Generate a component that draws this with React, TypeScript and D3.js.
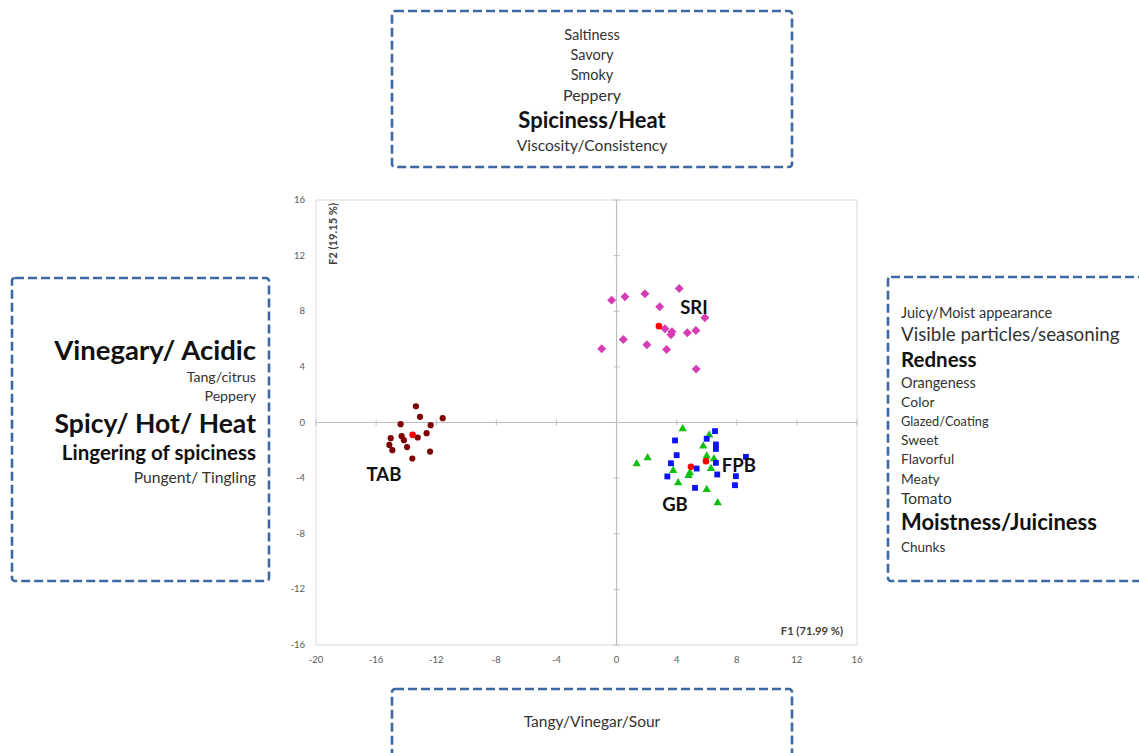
import React from "react";
import * as d3 from "d3";

// ---- Data ----
const sriX = [-0.33, 0.56, 1.89, 4.17, 2.87, 5.88, 3.22, 3.69, 3.62, 4.71, 5.28, 0.45, 2.02, 3.33, -0.99, 5.30];
const sriY = [8.8, 9.04, 9.26, 9.64, 8.32, 7.53, 6.74, 6.52, 6.31, 6.45, 6.62, 5.97, 5.59, 5.25, 5.3, 3.84];

const tabX = [-13.35, -13.08, -11.57, -14.37, -12.37, -12.64, -15.03, -14.3, -13.23, -14.15, -15.12, -14.92, -13.94, -12.41, -13.59];
const tabY = [1.17, 0.41, 0.31, -0.12, -0.19, -0.77, -1.13, -0.98, -1.08, -1.27, -1.61, -1.99, -1.77, -2.09, -2.59];

const gbX = [4.4, 6.17, 5.77, 2.07, 1.34, 6.0, 6.48, 3.77, 6.28, 4.88, 4.79, 4.1, 6.0, 6.73];
const gbY = [-0.45, -0.91, -1.7, -2.54, -2.97, -2.42, -2.61, -3.45, -3.31, -3.62, -3.81, -4.34, -4.82, -5.78];

const fpbX = [6.55, 6.0, 3.89, 6.61, 6.61, 4.0, 8.61, 3.62, 6.61, 5.33, 6.7, 3.38, 7.94, 7.88, 5.22];
const fpbY = [-0.62, -1.17, -1.29, -1.58, -1.9, -2.35, -2.47, -2.93, -2.9, -3.31, -3.74, -3.88, -3.86, -4.51, -4.7];

const centroidNames = ["SRI", "TAB", "GB", "FPB"];
const centroidX = [2.82, -13.57, 4.95, 5.95];
const centroidY = [6.93, -0.89, -3.19, -2.78];

const groupLabels = ["SRI", "TAB", "FPB", "GB"];
const groupLabelX = [5.15, -15.48, 8.14, 3.89];
const groupLabelY = [7.77, -4.24, -3.53, -6.33];

const xTicks = [-20, -16, -12, -8, -4, 0, 4, 8, 12, 16];
const yTicks = [-16, -12, -8, -4, 0, 4, 8, 12, 16];

const xAxisTitle = "F1 (71.99 %)";
const yAxisTitle = "F2 (19.15 %)";

const topTerms = ["Saltiness", "Savory", "Smoky", "Peppery", "Spiciness/Heat", "Viscosity/Consistency"];
const leftTerms = ["Vinegary/ Acidic", "Tang/citrus", "Peppery", "Spicy/ Hot/ Heat", "Lingering of spiciness", "Pungent/ Tingling"];
const rightTerms = ["Juicy/Moist appearance", "Visible particles/seasoning", "Redness", "Orangeness", "Color", "Glazed/Coating", "Sweet", "Flavorful", "Meaty", "Tomato", "Moistness/Juiciness", "Chunks"];
const bottomTerms = ["Tangy/Vinegar/Sour"];

// ---- Styles (layout) ----
const FONT = "Lato, 'Open Sans', sans-serif";
const topStyle = [
  { y: 40, size: 14.5, w: 400 },
  { y: 60, size: 14.5, w: 400 },
  { y: 80, size: 14.5, w: 400 },
  { y: 101, size: 16, w: 400 },
  { y: 128, size: 22, w: 700 },
  { y: 151, size: 15.6, w: 400 },
];
const leftStyle = [
  { y: 360, size: 27.5, w: 700 },
  { y: 382, size: 14.2, w: 400 },
  { y: 401, size: 14.2, w: 400 },
  { y: 433, size: 26.5, w: 700 },
  { y: 460, size: 20.5, w: 700 },
  { y: 483, size: 15.7, w: 400 },
];
const rightStyle = [
  { y: 318, size: 14.5, w: 400 },
  { y: 341, size: 18.8, w: 400 },
  { y: 367, size: 20.5, w: 700 },
  { y: 388, size: 14.4, w: 400 },
  { y: 407, size: 14, w: 400 },
  { y: 426, size: 12.8, w: 400 },
  { y: 445, size: 13.8, w: 400 },
  { y: 464, size: 13.8, w: 400 },
  { y: 484, size: 13.8, w: 400 },
  { y: 504, size: 15.5, w: 400 },
  { y: 530, size: 22, w: 700 },
  { y: 552, size: 13.5, w: 400 },
];

const BOX = "#3e68a3";

export default function App() {
  const x = d3.scaleLinear().domain([-20, 16]).range([316, 857]);
  const y = d3.scaleLinear().domain([-16, 16]).range([645, 200]);

  const diamond = d3.symbol().type(d3.symbolSquare).size(40)() as string;
  const circle = d3.symbol().type(d3.symbolCircle).size(30)() as string;
  const square = d3.symbol().type(d3.symbolSquare).size(34)() as string;
  const triangle = d3.symbol().type(d3.symbolTriangle).size(30)() as string;
  const centroid = d3.symbol().type(d3.symbolCircle).size(34)() as string;

  const series = [
    { xs: sriX, ys: sriY, path: diamond, color: "#d63cb4", rot: 45 },
    { xs: tabX, ys: tabY, path: circle, color: "#7f0000", rot: 0 },
    { xs: gbX, ys: gbY, path: triangle, color: "#10c010", rot: 0 },
    { xs: fpbX, ys: fpbY, path: square, color: "#0a14f0", rot: 0 },
  ];

  const dashBox = (x0: number, y0: number, w: number, h: number, key: string) => (
    <rect key={key} x={x0} y={y0} width={w} height={h} rx={3} fill="none" stroke={BOX} strokeWidth={2.6} strokeDasharray="9,4" />
  );

  return (
    <svg width={1139} height={753} style={{ position: "absolute", left: 0, top: 0, background: "#fff" }} fontFamily={FONT}>
      {/* plot frame */}
      <rect x={x(-20)} y={y(16)} width={x(16) - x(-20)} height={y(-16) - y(16)} fill="#fff" stroke="#d9d9d9" strokeWidth={1} />
      {/* zero axes */}
      <line x1={x(0)} x2={x(0)} y1={y(16)} y2={y(-16)} stroke="#bfbfbf" strokeWidth={1.2} />
      <line x1={x(-20)} x2={x(16)} y1={y(0)} y2={y(0)} stroke="#bfbfbf" strokeWidth={1.2} />
      {yTicks.map((t) => (
        <line key={"yt" + t} x1={x(0) - 3} x2={x(0) + 3} y1={y(t)} y2={y(t)} stroke="#bfbfbf" strokeWidth={1} />
      ))}
      {xTicks.map((t) => (
        <line key={"xt" + t} x1={x(t)} x2={x(t)} y1={y(0) - 3} y2={y(0) + 3} stroke="#bfbfbf" strokeWidth={1} />
      ))}
      {/* tick labels */}
      {xTicks.map((t) => (
        <text key={"xl" + t} x={x(t)} y={663} fontSize={9.5} fill="#595959" textAnchor="middle">{t}</text>
      ))}
      {yTicks.map((t) => (
        <text key={"yl" + t} x={305} y={y(t) + 3} fontSize={9.5} fill="#595959" textAnchor="end">{t}</text>
      ))}
      {/* axis titles */}
      <text x={843} y={635} fontSize={11.2} fontWeight={700} fill="#404040" textAnchor="end">{xAxisTitle}</text>
      <text transform={`translate(337,${234}) rotate(-90)`} fontSize={11.2} fontWeight={700} fill="#404040" textAnchor="middle">{yAxisTitle}</text>

      {/* points */}
      {series.map((s, si) =>
        s.xs.map((v, i) => (
          <path key={`p${si}-${i}`} d={s.path} transform={`translate(${x(v)},${y(s.ys[i])}) rotate(${s.rot})`} fill={s.color} />
        ))
      )}
      {centroidNames.map((n, i) => (
        <path key={"c" + n} d={centroid} transform={`translate(${x(centroidX[i])},${y(centroidY[i])})`} fill="#ff0000" />
      ))}
      {groupLabels.map((n, i) => (
        <text key={"gl" + n} x={x(groupLabelX[i])} y={y(groupLabelY[i])} fontSize={18.5} fontWeight={700} fill="#111" textAnchor="middle">{n}</text>
      ))}

      {/* boxes */}
      {dashBox(392, 11, 400, 156, "bt")}
      {dashBox(12, 278, 257, 303, "bl")}
      {dashBox(888, 277, 270, 304, "br")}
      {dashBox(392, 689, 400, 80, "bb")}

      {topTerms.map((t, i) => (
        <text key={"tt" + i} x={592} y={topStyle[i].y} fontSize={topStyle[i].size} fontWeight={topStyle[i].w} fill={topStyle[i].w > 400 ? "#111" : "#333"} textAnchor="middle">{t}</text>
      ))}
      {leftTerms.map((t, i) => (
        <text key={"lt" + i} x={256} y={leftStyle[i].y} fontSize={leftStyle[i].size} fontWeight={leftStyle[i].w} fill={leftStyle[i].w > 400 ? "#111" : "#333"} textAnchor="end">{t}</text>
      ))}
      {rightTerms.map((t, i) => (
        <text key={"rt" + i} x={901} y={rightStyle[i].y} fontSize={rightStyle[i].size} fontWeight={rightStyle[i].w} fill={rightStyle[i].w > 400 ? "#111" : "#333"} textAnchor="start">{t}</text>
      ))}
      {bottomTerms.map((t, i) => (
        <text key={"bt" + i} x={592} y={727} fontSize={15.5} fill="#333" textAnchor="middle">{t}</text>
      ))}
    </svg>
  );
}
